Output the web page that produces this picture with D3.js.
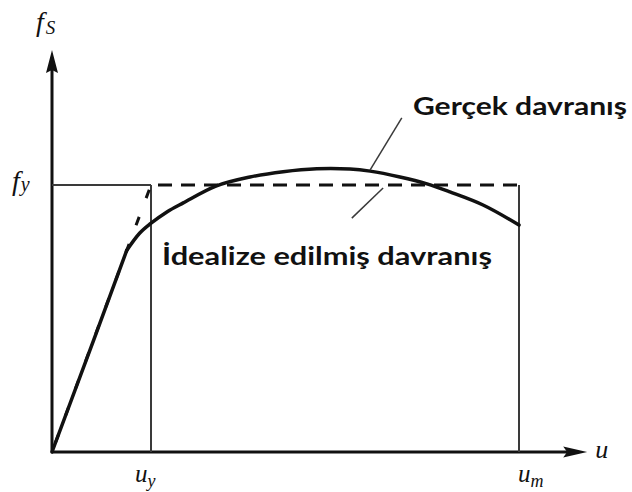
<!DOCTYPE html>
<html>
<head>
<meta charset="utf-8">
<script src="https://cdn.jsdelivr.net/npm/d3@7"></script>
<style>
  html, body { margin: 0; padding: 0; background: #fff; }
  svg { display: block; }
  .math { font-family: "Liberation Serif", "Times New Roman", serif; font-style: italic; fill: #111; }
  .note { font-family: Lato, "Open Sans", sans-serif; font-weight: 700; fill: #111; }
</style>
</head>
<body>
<svg id="chart" width="632" height="492"></svg>
<script>
// Capacity curve: displacement u (normalised to u_m) vs. force f_S (normalised to f_y)

// Measured ("real") behaviour; the first points form the straight elastic branch
const uReal = [0, 0.09, 0.160, 0.188, 0.210, 0.246, 0.281, 0.351, 0.424, 0.495, 0.567, 0.638, 0.681, 0.745, 0.803, 0.852, 0.923, 1.0];
const fReal = [0, 0.423, 0.755, 0.820, 0.854, 0.899, 0.933, 0.996, 1.030, 1.050, 1.061, 1.060, 1.052, 1.030, 1.004, 0.974, 0.925, 0.850];
const elasticCount = 3;

// Idealised elasto-plastic behaviour: origin -> yield point -> ultimate point
const uIdeal = [0, 0.212, 1.0];
const fIdeal = [0, 1.0, 1.0];

// Tick marks on the axes
const uTickValues = [0.212, 1.0];
const uTickLabels = [["u", "y"], ["u", "m"]];
const fTickValues = [1.0];
const fTickLabels = [["f", "y"]];

// Axis ends (data units)
const uAxisMax = 1.146;
const fAxisMax = 1.506;

const svg = d3.select("#chart");
const W = 632, H = 492;
svg.append("rect").attr("width", W).attr("height", H).attr("fill", "#fff");

const x = d3.scaleLinear().domain([0, 1]).range([52, 519]);
const y = d3.scaleLinear().domain([0, 1]).range([452, 185]);

const ink = "#111";
const thin = "#3a3a3a";

// --- axes with arrowheads ---
const ax = svg.append("g");
ax.append("line")
  .attr("x1", x(0)).attr("y1", y(0))
  .attr("x2", x(0)).attr("y2", y(fAxisMax) + 20)
  .attr("stroke", ink).attr("stroke-width", 3);
ax.append("path")
  .attr("d", `M${x(0)},${y(fAxisMax)} L${x(0) + 6},${y(fAxisMax) + 23} L${x(0)},${y(fAxisMax) + 20} L${x(0) - 6},${y(fAxisMax) + 23} Z`)
  .attr("fill", ink);
ax.append("line")
  .attr("x1", x(0)).attr("y1", y(0))
  .attr("x2", x(uAxisMax) - 20).attr("y2", y(0))
  .attr("stroke", ink).attr("stroke-width", 3);
ax.append("path")
  .attr("d", `M${x(uAxisMax)},${y(0)} L${x(uAxisMax) - 24},${y(0) - 5.5} L${x(uAxisMax) - 20},${y(0)} L${x(uAxisMax) - 24},${y(0) + 5.5} Z`)
  .attr("fill", ink);

// Axis titles
const fsT = svg.append("text").attr("class", "math").attr("x", 36).attr("y", 31);
fsT.append("tspan").attr("font-size", 28).text("f");
fsT.append("tspan").attr("font-size", 19).attr("dx", 2).attr("dy", 3).text("S");

svg.append("text").attr("class", "math")
  .attr("x", x(uAxisMax) + 8).attr("y", y(0) + 6)
  .attr("font-size", 26).text("u");

// --- reference lines at yield / ultimate points ---
const ref = svg.append("g").attr("stroke", thin).attr("stroke-width", 2).attr("fill", "none");
fTickValues.forEach(fv => {
  ref.append("line")
    .attr("x1", x(0)).attr("y1", y(fv))
    .attr("x2", x(uIdeal[1])).attr("y2", y(fv));
});
uTickValues.forEach(uv => {
  ref.append("line")
    .attr("x1", x(uv)).attr("y1", y(1))
    .attr("x2", x(uv)).attr("y2", y(0));
});

// Tick labels
uTickValues.forEach((uv, i) => {
  const t = svg.append("text").attr("class", "math")
    .attr("x", x(uv) + (i === 0 ? -16 : -1)).attr("y", y(0) + 30);
  t.append("tspan").attr("font-size", 25).text(uTickLabels[i][0]);
  t.append("tspan").attr("font-size", 18).attr("dy", 5).text(uTickLabels[i][1]);
});
fTickValues.forEach((fv, i) => {
  const t = svg.append("text").attr("class", "math")
    .attr("x", 12).attr("y", y(fv) + 5);
  t.append("tspan").attr("font-size", 28).text(fTickLabels[i][0]);
  t.append("tspan").attr("font-size", 20).attr("dx", 1).attr("dy", 1).text(fTickLabels[i][1]);
});

// --- idealised (dashed) behaviour ---
const ideal = uIdeal.map((u, i) => [u, fIdeal[i]]);
const lineGen = d3.line().x(d => x(d[0])).y(d => y(d[1]));
// sloped branch, drawn downward from the yield point
svg.append("path")
  .attr("d", lineGen([ideal[1], ideal[0]]))
  .attr("fill", "none").attr("stroke", ink).attr("stroke-width", 3)
  .attr("stroke-dasharray", "9,20").attr("stroke-dashoffset", 24);
// plastic plateau
svg.append("path")
  .attr("d", lineGen([ideal[1], ideal[2]]))
  .attr("fill", "none").attr("stroke", ink).attr("stroke-width", 3)
  .attr("stroke-dasharray", "14,9").attr("stroke-dashoffset", 16);

// --- real behaviour curve: straight elastic branch, then smooth hardening/softening ---
const real = uReal.map((u, i) => [u, fReal[i]]);
const curveStyle = p => p.attr("fill", "none").attr("stroke", ink).attr("stroke-width", 3.5)
  .attr("stroke-linejoin", "round").attr("stroke-linecap", "round");
svg.append("path")
  .attr("d", lineGen(real.slice(0, elasticCount)))
  .call(curveStyle);
svg.append("path")
  .attr("d", d3.line().x(d => x(d[0])).y(d => y(d[1])).curve(d3.curveCatmullRom.alpha(0.5))(real.slice(elasticCount - 1)))
  .call(curveStyle);

// --- annotations with leader lines ---
const notes = [
  { text: "Gerçek davranış", at: [0.681, 1.056], end: [0.749, 1.251], label: [0.773, 1.262], width: 214 },
  { text: "İdealize edilmiş davranış", at: [0.709, 0.989], end: [0.642, 0.876], label: [0.2355, 0.700], width: 330 }
];
notes.forEach(n => {
  svg.append("line")
    .attr("x1", x(n.at[0])).attr("y1", y(n.at[1]))
    .attr("x2", x(n.end[0])).attr("y2", y(n.end[1]))
    .attr("stroke", thin).attr("stroke-width", 1.5);
  svg.append("text").attr("class", "note")
    .attr("x", x(n.label[0])).attr("y", y(n.label[1]))
    .attr("font-size", 24)
    .attr("textLength", n.width).attr("lengthAdjust", "spacingAndGlyphs")
    .text(n.text);
});
</script>
</body>
</html>
